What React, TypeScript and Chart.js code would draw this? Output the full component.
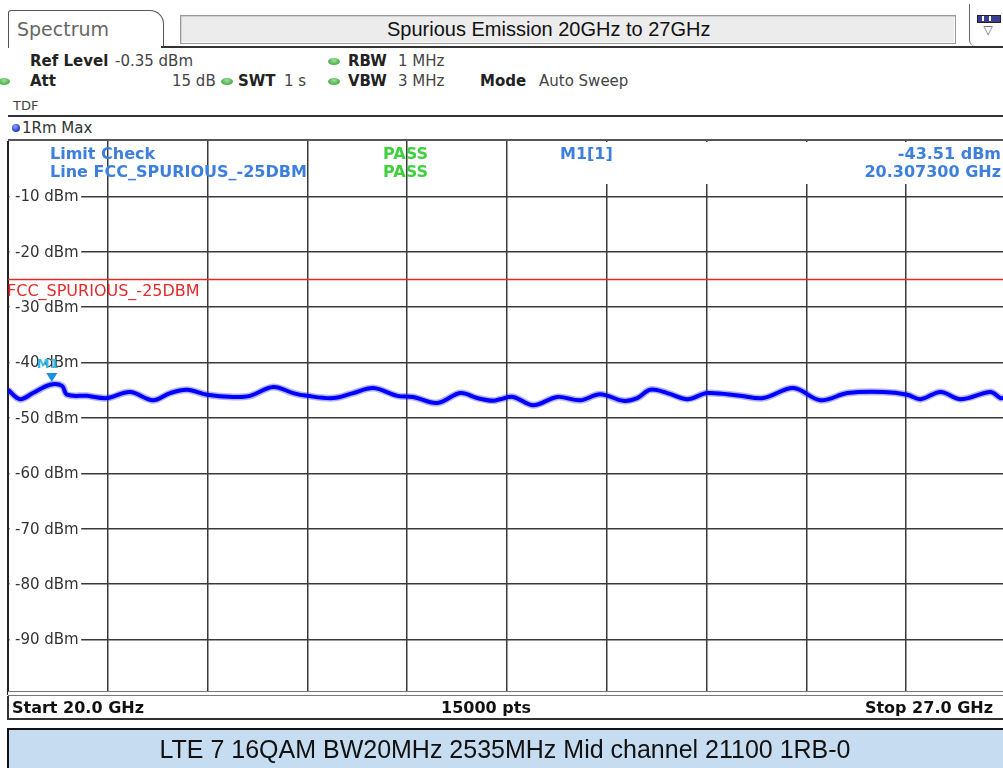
import React, { useEffect, useRef } from 'react';
import { Chart, registerables } from 'chart.js';

Chart.register(...registerables);

// ---- data ----
const freqGHz = [
  20.0, 20.084, 20.175, 20.295, 20.379, 20.414, 20.554, 20.695, 20.856, 21.018,
  21.137, 21.256, 21.397, 21.579, 21.698, 21.86, 22.0, 22.098, 22.281, 22.421,
  22.562, 22.73, 22.842, 23.011, 23.172, 23.291, 23.404, 23.453, 23.544, 23.684,
  23.853, 24.014, 24.154, 24.316, 24.414, 24.505, 24.625, 24.765, 24.906, 25.137,
  25.298, 25.509, 25.698, 25.888, 26.14, 26.309, 26.4, 26.541, 26.681, 26.892,
  26.962, 27.0,
];
const levelDbm = [
  -44.9, -46.6, -45.5, -44.0, -44.2, -45.8, -46.0, -46.4, -45.3, -46.8,
  -45.5, -44.9, -45.8, -46.2, -46.0, -44.4, -45.5, -46.0, -46.4, -45.5,
  -44.6, -46.0, -46.2, -47.3, -45.5, -46.4, -46.9, -46.6, -46.2, -47.7,
  -46.2, -46.8, -45.7, -46.9, -46.4, -44.9, -45.5, -46.6, -45.5, -46.0,
  -46.4, -44.6, -46.8, -45.5, -45.3, -45.8, -46.6, -45.3, -46.6, -45.3,
  -46.4, -46.2,
];
const limitFreqGHz = [20.0, 27.0];
const limitDbm = [-25, -25];
const limitName = 'FCC_SPURIOUS_-25DBM';
const markerFreqGHz = [20.3073];
const markerDbm = [-43.51];
const yTickValues = [-10, -20, -30, -40, -50, -60, -70, -80, -90];
const xGridGHz = [20.7, 21.4, 22.1, 22.8, 23.5, 24.2, 24.9, 25.6, 26.3];
const xRange = [20.0, 27.0];
const yRange = [-100, 0];
const sweepPoints = 15000;

const DV = '"DejaVu Sans", Verdana, sans-serif';
const AR = '"Liberation Sans", Arial, sans-serif';

const overlayPlugin = {
  id: 'overlayPlugin',
  afterDatasetsDraw(chart: any) {
    const { ctx, chartArea, scales } = chart;
    const ys = scales.y;
    const xs = scales.x;
    ctx.save();
    // y tick labels inside the plot with white backing
    ctx.font = `15px ${DV}`;
    ctx.textBaseline = 'middle';
    ctx.textAlign = 'left';
    yTickValues.forEach((v) => {
      const py = ys.getPixelForValue(v);
      const label = `${v} dBm`;
      const w = ctx.measureText(label).width;
      ctx.fillStyle = '#ffffff';
      ctx.fillRect(chartArea.left + 1.5, py - 9, w + 8, 18);
      ctx.fillStyle = '#333333';
      ctx.fillText(label, chartArea.left + 7, py + 1);
    });
    // limit line name
    const ly = ys.getPixelForValue(limitDbm[0]);
    ctx.font = `16px ${DV}`;
    ctx.fillStyle = '#e42a2a';
    ctx.textBaseline = 'top';
    ctx.fillText(limitName, chartArea.left - 1, ly + 4);
    // marker
    const mx = xs.getPixelForValue(markerFreqGHz[0]);
    const my = ys.getPixelForValue(markerDbm[0]);
    ctx.fillStyle = '#1a8fe0';
    ctx.beginPath();
    ctx.moveTo(mx - 5.5, my - 9);
    ctx.lineTo(mx + 5.5, my - 9);
    ctx.lineTo(mx, my);
    ctx.closePath();
    ctx.fill();
    ctx.font = `bold 13px ${DV}`;
    ctx.fillStyle = '#33b8e8';
    ctx.textAlign = 'center';
    ctx.textBaseline = 'alphabetic';
    ctx.fillText('M1', mx - 4, my - 14);
    ctx.restore();
  },
};

type TProps = {
  x: number;
  y: number;
  size?: number;
  bold?: boolean;
  color?: string;
  family?: string;
  align?: 'left' | 'center' | 'right';
  children: React.ReactNode;
};

function T({ x, y, size = 15, bold = false, color = '#222', family = DV, align = 'left', children }: TProps) {
  const tx = align === 'left' ? '0' : align === 'center' ? '-50%' : '-100%';
  return (
    <div
      style={{
        position: 'absolute',
        left: x,
        top: y,
        transform: `translate(${tx}, -50%)`,
        fontSize: size,
        fontWeight: bold ? 'bold' : 'normal',
        color,
        fontFamily: family,
        lineHeight: 1,
        whiteSpace: 'nowrap',
      }}
    >
      {children}
    </div>
  );
}

function Dot({ x, y, color = '#56b456' }: { x: number; y: number; color?: string }) {
  return (
    <div
      style={{
        position: 'absolute',
        left: x - 6,
        top: y - 3.5,
        width: 12,
        height: 7,
        borderRadius: '50%',
        background: `radial-gradient(ellipse at 50% 35%, #9be39b 0%, ${color} 60%, #3c8f3c 100%)`,
      }}
    />
  );
}

export default function App() {
  const canvasRef = useRef<HTMLCanvasElement | null>(null);

  useEffect(() => {
    const canvas = canvasRef.current;
    if (!canvas) return;
    const tracePoints = freqGHz.map((f, i) => ({ x: f, y: levelDbm[i] }));
    const chart = new Chart(canvas, {
      type: 'line',
      data: {
        datasets: [
          {
            label: 'Trace 1Rm Max',
            data: tracePoints,
            borderColor: '#0000ff',
            borderWidth: 4,
            pointRadius: 0,
            tension: 0.35,
            order: 0,
          },
          {
            label: 'Trace halo',
            data: tracePoints,
            borderColor: 'rgba(40,40,255,0.35)',
            borderWidth: 7,
            pointRadius: 0,
            tension: 0.35,
            order: 1,
          },
          {
            label: limitName,
            data: limitFreqGHz.map((f, i) => ({ x: f, y: limitDbm[i] })),
            borderColor: '#e42a2a',
            borderWidth: 1.5,
            pointRadius: 0,
            tension: 0,
            order: 2,
          },
        ],
      },
      options: {
        responsive: false,
        maintainAspectRatio: false,
        animation: false,
        events: [],
        layout: { padding: { left: 2, top: 0, right: 0, bottom: 0 } },
        plugins: { legend: { display: false }, tooltip: { enabled: false } },
        scales: {
          x: {
            type: 'linear',
            min: xRange[0],
            max: xRange[1],
            afterBuildTicks: (s: any) => {
              s.ticks = xGridGHz.map((v) => ({ value: v }));
            },
            ticks: { display: false },
            grid: { color: '#3a3a3a', lineWidth: 1.5, drawTicks: false },
            border: { display: false },
          },
          y: {
            type: 'linear',
            min: yRange[0],
            max: yRange[1],
            afterBuildTicks: (s: any) => {
              s.ticks = yTickValues.map((v) => ({ value: v }));
            },
            ticks: { display: false },
            grid: { color: '#3a3a3a', lineWidth: 1.5, drawTicks: false },
            border: { display: true, color: '#222', width: 2 },
          },
        },
      },
      plugins: [overlayPlugin],
    } as any);
    return () => chart.destroy();
  }, []);

  const blue = '#3d7fdc';
  const green = '#3fcf3f';

  return (
    <div
      style={{
        position: 'fixed',
        left: 0,
        top: 0,
        width: 1003,
        height: 768,
        overflow: 'hidden',
        background: '#fff',
        fontFamily: DV,
      }}
    >
      {/* Tab */}
      <div
        style={{
          position: 'absolute',
          left: 8,
          top: 10,
          width: 154,
          height: 37,
          border: '1.5px solid #555',
          borderBottom: 'none',
          borderTopRightRadius: 14,
          borderTopLeftRadius: 3,
          background: '#fff',
        }}
      />
      <T x={17} y={29} size={19} color="#666">Spectrum</T>
      {/* title box */}
      <div
        style={{
          position: 'absolute',
          left: 180,
          top: 15,
          width: 774,
          height: 27,
          background: '#ececec',
          border: '1px solid #9a9a9a',
          boxShadow: 'inset 1px 1px 0 #d0d0d0, inset -1px -1px 0 #fafafa',
        }}
      />
      <T x={387} y={29} size={20} family={AR} color="#111">Spurious Emission 20GHz to 27GHz</T>
      {/* icon box */}
      <div
        style={{
          position: 'absolute',
          left: 969,
          top: 4,
          width: 40,
          height: 42,
          borderLeft: '1.5px solid #666',
          borderBottomLeftRadius: 6,
          background: '#fff',
        }}
      />
      <div style={{ position: 'absolute', left: 977, top: 15, width: 22, height: 6, background: '#3a3f8f', border: '1px solid #222' }} />
      <div style={{ position: 'absolute', left: 982, top: 16, width: 2, height: 5, background: '#fff' }} />
      <div style={{ position: 'absolute', left: 989, top: 16, width: 2, height: 5, background: '#fff' }} />
      <T x={988} y={30} size={12} color="#555" align="center">▽</T>
      {/* thick line under header */}
      <div style={{ position: 'absolute', left: 161, top: 45.5, width: 842, height: 2.5, background: '#333' }} />

      {/* Info rows */}
      <T x={30} y={61} bold>Ref Level</T>
      <T x={115} y={61} color="#444">-0.35 dBm</T>
      <Dot x={334} y={61} />
      <T x={348} y={61} bold>RBW</T>
      <T x={398} y={61} color="#444">1 MHz</T>

      <Dot x={4} y={81} />
      <T x={30} y={81} bold>Att</T>
      <T x={172} y={81} color="#444">15 dB</T>
      <Dot x={227} y={81} />
      <T x={238} y={81} bold>SWT</T>
      <T x={284} y={81} color="#444">1 s</T>
      <Dot x={334} y={81} />
      <T x={348} y={81} bold>VBW</T>
      <T x={398} y={81} color="#444">3 MHz</T>
      <T x={480} y={81} bold>Mode</T>
      <T x={539} y={81} color="#444">Auto Sweep</T>

      <T x={13} y={105} size={13} color="#444">TDF</T>

      <div style={{ position: 'absolute', left: 8, top: 115, width: 995, height: 2, background: '#333' }} />
      {/* trace row */}
      <div
        style={{
          position: 'absolute',
          left: 12,
          top: 124,
          width: 8,
          height: 8,
          borderRadius: '50%',
          background: 'radial-gradient(circle at 40% 35%, #8fa8ff 0%, #2a46d0 60%, #182a90 100%)',
        }}
      />
      <T x={22} y={128} size={15} color="#333">1Rm Max</T>
      <div style={{ position: 'absolute', left: 8, top: 139, width: 995, height: 2, background: '#555' }} />

      {/* chart */}
      <canvas
        ref={canvasRef}
        width={1000}
        height={554}
        style={{ position: 'absolute', left: 6, top: 141, width: 1000, height: 554 }}
      />

      {/* in-plot info */}
      <T x={50} y={154} size={16} bold color={blue}>Limit Check</T>
      <T x={383} y={154} size={16} bold color={green}>PASS</T>
      <T x={50} y={172} size={16} bold color={blue}>{`Line ${limitName}`}</T>
      <T x={383} y={172} size={16} bold color={green}>PASS</T>
      <div style={{ position: 'absolute', left: 509, top: 142, width: 494, height: 42, background: '#fff' }} />
      <T x={560} y={154} size={16} bold color={blue}>M1[1]</T>
      <T x={1001} y={154} size={16} bold color={blue} align="right">{`${markerDbm[0].toFixed(2)} dBm`}</T>
      <T x={1001} y={172} size={16} bold color={blue} align="right">{`${markerFreqGHz[0].toFixed(6)} GHz`}</T>

      {/* bottom double line and footer row */}
      <div
        style={{
          position: 'absolute',
          left: 8,
          top: 691,
          width: 1000,
          height: 3,
          background: '#fff',
          borderTop: '1.5px solid #777',
          borderBottom: '1.5px solid #777',
        }}
      />
      <div
        style={{
          position: 'absolute',
          left: 7,
          top: 696,
          width: 1000,
          height: 22,
          borderLeft: '2px solid #333',
          borderBottom: '2px solid #333',
        }}
      />
      <T x={12} y={708} size={16} bold color="#111">{`Start ${xRange[0].toFixed(1)} GHz`}</T>
      <T x={486} y={708} size={16} bold color="#111" align="center">{`${sweepPoints} pts`}</T>
      <T x={993} y={708} size={16} bold color="#111" align="right">{`Stop ${xRange[1].toFixed(1)} GHz`}</T>

      {/* caption bar */}
      <div
        style={{
          position: 'absolute',
          left: 7,
          top: 728,
          width: 1000,
          height: 45,
          background: '#c6dcf0',
          borderTop: '2px solid #111',
          borderLeft: '2px solid #111',
        }}
      />
      <T x={505} y={749} size={25} family={AR} color="#111" align="center">
        LTE 7 16QAM BW20MHz 2535MHz Mid channel 21100 1RB-0
      </T>
    </div>
  );
}
